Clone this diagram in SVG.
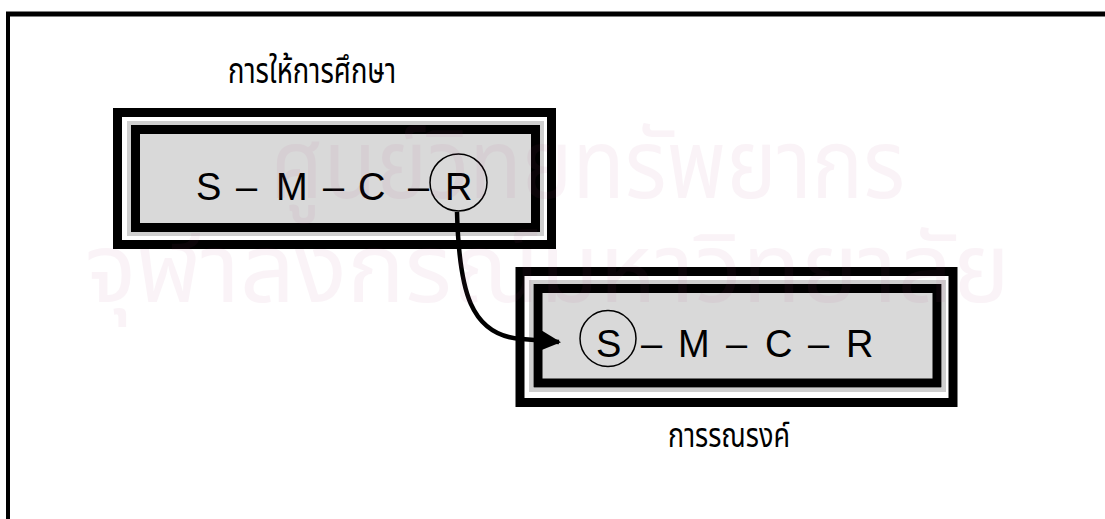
<svg xmlns="http://www.w3.org/2000/svg" width="1105" height="519" viewBox="0 0 1105 519">
<defs>
<style>
.outer{fill:none;stroke:#000;stroke-width:9}
.band{fill:none;stroke:#cfcfcf;stroke-width:4}
.inner{fill:#d9d9d9;stroke:#000;stroke-width:9}
.lbl{font-family:"Liberation Sans",Arial,sans-serif;font-size:38px;fill:#000}
.th{font-family:"Noto Sans Thai","Noto Sans Thai Looped","Noto Sans",sans-serif;fill:#000}
.wm{font-family:"Noto Sans Thai","Noto Sans",sans-serif;font-size:96px;fill:#b04080;opacity:0.06}
.ring{fill:none;stroke:#000;stroke-width:1.5}
.conn{fill:none;stroke:#000;stroke-width:4.5}
</style>
<marker id="ah" viewBox="0 0 10 10" refX="9" refY="5" markerWidth="4.6" markerHeight="4.4" markerUnits="strokeWidth" orient="auto">
<path d="M0,0 L10,5 L0,10 Z" fill="#000"/>
</marker>
</defs>
<rect width="1105" height="519" fill="#fff"/>
<g id="page-frame">
<line x1="6" y1="14" x2="1105" y2="14" stroke="#000" stroke-width="5"/>
<line x1="8" y1="12" x2="8" y2="519" stroke="#000" stroke-width="4"/>
</g>
<g id="node-education">
<rect class="outer" x="117.5" y="112.5" width="434" height="132"/>
<rect class="band" x="129" y="123" width="413" height="111"/>
<rect class="inner" x="135.5" y="129.5" width="400" height="98"/>
<text class="lbl" y="200"><tspan x="196">S</tspan><tspan x="236">–</tspan><tspan x="276">M</tspan><tspan x="323">–</tspan><tspan x="358">C</tspan><tspan x="408">–</tspan><tspan x="445">R</tspan></text>
<circle class="ring" cx="458.5" cy="182.5" r="28.5"/>
<text class="th" x="228" y="83" font-size="35" textLength="168" lengthAdjust="spacingAndGlyphs">การให้การศึกษา</text>
</g>
<g id="node-campaign">
<rect class="outer" x="520" y="271.5" width="433" height="131"/>
<rect class="band" x="531" y="282" width="413" height="108"/>
<rect class="inner" x="538" y="288.5" width="399" height="94.5"/>
<text class="lbl" y="357"><tspan x="596">S</tspan><tspan x="641">–</tspan><tspan x="678">M</tspan><tspan x="726">–</tspan><tspan x="765">C</tspan><tspan x="808">–</tspan><tspan x="846">R</tspan></text>
<circle class="ring" cx="608" cy="338.5" r="28"/>
<text class="th" x="668" y="447" font-size="34" textLength="122" lengthAdjust="spacingAndGlyphs">การรณรงค์</text>
</g>
<g id="connectors">
<path class="conn" d="M457,212 C459,290 470,336 522,339 L559,342" marker-end="url(#ah)"/>
</g>
<g id="watermark">
<text class="wm" x="270" y="198" textLength="635" lengthAdjust="spacingAndGlyphs">ศูนย์วิทยทรัพยากร</text>
<text class="wm" x="85" y="302" textLength="925" lengthAdjust="spacingAndGlyphs">จุฬาลงกรณ์มหาวิทยาลัย</text>
</g>
</svg>
